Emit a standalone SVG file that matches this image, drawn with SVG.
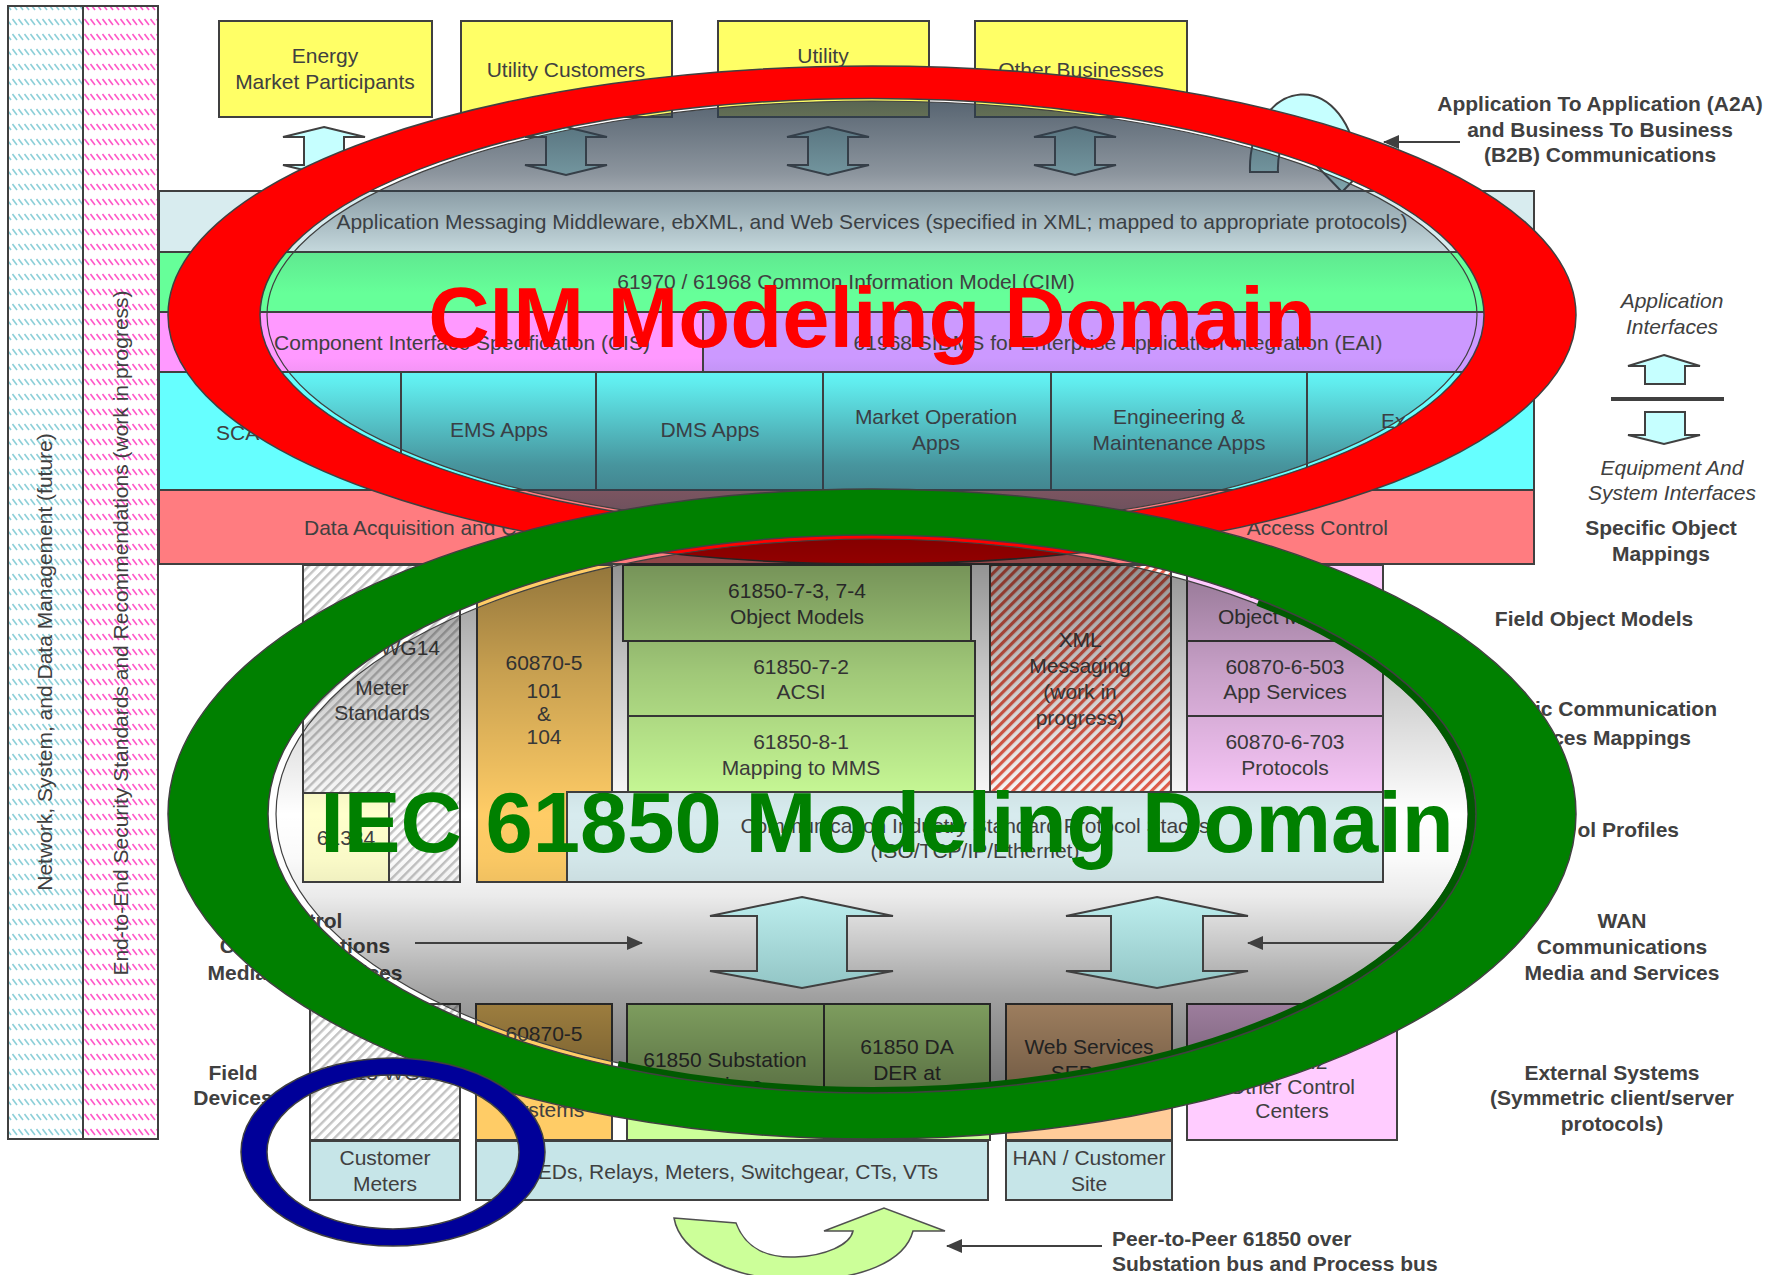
<svg xmlns="http://www.w3.org/2000/svg" width="1781" height="1275" viewBox="0 0 1781 1275">
<defs>
<style>
text { font-family: "Liberation Sans", Arial, sans-serif; font-size: 21px; fill: #404040; text-anchor: middle; }
.b { font-weight: bold; }
.it { font-style: italic; }
.st { text-anchor: start; }
.en { text-anchor: end; }
.box { stroke: #404040; stroke-width: 2; }
.ring { stroke: #404040; stroke-width: 1.5; fill-rule: evenodd; }
.conn { stroke: #404040; stroke-width: 2; fill: none; marker-end: url(#ah); }
.barrow { stroke: #404040; stroke-width: 2; fill: #c6ffff; }
.dbl { stroke: #404040; stroke-width: 2; fill: url(#gTeal); }
.big { font-size: 85px; font-weight: bold; }
</style>
<pattern id="pCyan" patternUnits="userSpaceOnUse" width="6" height="15">
<path d="M0.5,4 L5,10" stroke="#8ccfd8" stroke-width="1.6"/>
</pattern>
<pattern id="pPink" patternUnits="userSpaceOnUse" width="6" height="15">
<path d="M0.5,4 L5,10" stroke="#ff55c8" stroke-width="1.6"/>
</pattern>
<pattern id="pGray" patternUnits="userSpaceOnUse" width="6.5" height="6.5" patternTransform="rotate(45)">
<rect x="0" y="0" width="6.5" height="6.5" fill="#ffffff"/>
<rect x="0" y="0" width="2.4" height="6.5" fill="#c4c4c4"/>
</pattern>
<pattern id="pRed" patternUnits="userSpaceOnUse" width="7" height="7" patternTransform="rotate(45)">
<rect x="0" y="0" width="7" height="7" fill="#ffffff"/>
<rect x="0" y="0" width="3.2" height="7" fill="#e65e4c"/>
</pattern>
<linearGradient id="gRedIn" gradientUnits="userSpaceOnUse" x1="0" y1="101" x2="0" y2="529">
<stop offset="0" stop-color="#2e3e4e" stop-opacity="0.8"/>
<stop offset="0.17" stop-color="#2e3e4e" stop-opacity="0.55"/>
<stop offset="0.35" stop-color="#2e3e4e" stop-opacity="0.12"/>
<stop offset="0.45" stop-color="#2e3e4e" stop-opacity="0"/>
<stop offset="0.6" stop-color="#2e3e4e" stop-opacity="0"/>
<stop offset="0.66" stop-color="#2e3e4e" stop-opacity="0.1"/>
<stop offset="0.85" stop-color="#2e3e4e" stop-opacity="0.55"/>
<stop offset="1" stop-color="#2e3e4e" stop-opacity="0.75"/>
</linearGradient>
<linearGradient id="gGreenIn" gradientUnits="userSpaceOnUse" x1="0" y1="539" x2="0" y2="1089">
<stop offset="0" stop-color="#000000" stop-opacity="0.48"/>
<stop offset="0.06" stop-color="#000000" stop-opacity="0.41"/>
<stop offset="0.24" stop-color="#000000" stop-opacity="0.22"/>
<stop offset="0.42" stop-color="#000000" stop-opacity="0.07"/>
<stop offset="0.5" stop-color="#000000" stop-opacity="0"/>
<stop offset="0.58" stop-color="#000000" stop-opacity="0.02"/>
<stop offset="0.65" stop-color="#000000" stop-opacity="0.08"/>
<stop offset="0.74" stop-color="#000000" stop-opacity="0.22"/>
<stop offset="0.83" stop-color="#000000" stop-opacity="0.37"/>
<stop offset="1" stop-color="#000000" stop-opacity="0.55"/>
</linearGradient>
<linearGradient id="gTeal" x1="0" y1="0" x2="0" y2="1">
<stop offset="0" stop-color="#bdeeee"/>
<stop offset="1" stop-color="#92c5c5"/>
</linearGradient>
<marker id="ah" markerUnits="userSpaceOnUse" markerWidth="16" markerHeight="14" viewBox="0 0 16 14" refX="15" refY="7" orient="auto">
<path d="M0,0 L16,7 L0,14 Z" fill="#404040"/>
</marker>
</defs>

<rect x="0" y="0" width="1781" height="1275" fill="#ffffff"/>

<!-- Left vertical columns -->
<g id="col-network">
<rect x="8" y="6" width="75" height="1133" fill="url(#pCyan)" class="box"/>
<text transform="translate(52,662) rotate(-90)">Network, System, and Data Management  (future)</text>
</g>
<g id="col-security">
<rect x="83" y="6" width="75" height="1133" fill="url(#pPink)" class="box"/>
<text transform="translate(128,633) rotate(-90)">End-to-End Security Standards and Recommendations (work in progress)</text>
</g>

<!-- Top yellow boxes -->
<g id="n-energy">
<rect x="219" y="21" width="213" height="96" fill="#ffff66" class="box"/>
<text x="325" y="63">Energy</text>
<text x="325" y="89">Market Participants</text>
</g>
<g id="n-utility-customers">
<rect x="461" y="21" width="211" height="96" fill="#ffff66" class="box"/>
<text x="566" y="77">Utility Customers</text>
</g>
<g id="n-utility">
<rect x="718" y="21" width="211" height="96" fill="#ffff66" class="box"/>
<text x="823" y="63">Utility</text>
</g>
<g id="n-other-businesses">
<rect x="975" y="21" width="212" height="96" fill="#ffff66" class="box"/>
<text x="1081" y="77">Other Businesses</text>
</g>

<!-- small up/down block arrows under top boxes -->
<g id="arrows-top">
<polygon class="barrow" points="324,127 365,137 344,137 344,165 365,165 324,175 283,165 304,165 304,137 283,137"/>
<polygon class="barrow" points="566,127 607,137 586,137 586,165 607,165 566,175 525,165 546,165 546,137 525,137"/>
<polygon class="barrow" points="828,127 869,137 848,137 848,165 869,165 828,175 787,165 808,165 808,137 787,137"/>
<polygon class="barrow" points="1075,127 1116,137 1095,137 1095,165 1116,165 1075,175 1034,165 1055,165 1055,137 1034,137"/>
</g>

<!-- A2A curved arrow -->
<g id="n-a2a-arrow">
<path class="barrow" stroke-width="1.5" d="M1250,172 A53,74 0 0 1 1356,165 L1368,165 L1342,192 L1316,165 L1330,165 A26,44 0 0 0 1278,172 Z"/>
</g>

<!-- CIM layered rows -->
<g id="n-app-messaging">
<rect x="159" y="191" width="1375" height="61" fill="#d8ecef" class="box"/>
<text x="872" y="229">Application Messaging Middleware, ebXML, and Web Services (specified in XML; mapped to appropriate protocols)</text>
</g>
<g id="n-cim">
<rect x="159" y="252" width="1375" height="60" fill="#66ff99" class="box"/>
<text x="846" y="289">61970 / 61968 Common Information Model (CIM)</text>
</g>
<g id="n-cis">
<rect x="159" y="312" width="544" height="60" fill="#ff99ff" class="box"/>
<text x="462" y="350">Component Interface Specification (CIS)</text>
</g>
<g id="n-sidms">
<rect x="703" y="312" width="831" height="60" fill="#cc99ff" class="box"/>
<text x="1118" y="350">61968 SIDMS for Enterprise Application Integration (EAI)</text>
</g>
<g id="n-scada">
<rect x="159" y="372" width="242" height="118" fill="#66ffff" class="box"/>
<text x="216" y="440" class="st">SCA</text>
</g>
<g id="n-ems">
<rect x="401" y="372" width="195" height="118" fill="#66ffff" class="box"/>
<text x="499" y="437">EMS Apps</text>
</g>
<g id="n-dms">
<rect x="596" y="372" width="227" height="118" fill="#66ffff" class="box"/>
<text x="710" y="437">DMS Apps</text>
</g>
<g id="n-market">
<rect x="823" y="372" width="228" height="118" fill="#66ffff" class="box"/>
<text x="936" y="424">Market Operation</text>
<text x="936" y="450">Apps</text>
</g>
<g id="n-engineering">
<rect x="1051" y="372" width="256" height="118" fill="#66ffff" class="box"/>
<text x="1179" y="424">Engineering &amp;</text>
<text x="1179" y="450">Maintenance Apps</text>
</g>
<g id="n-external">
<rect x="1307" y="372" width="227" height="118" fill="#66ffff" class="box"/>
<text x="1381" y="428" class="st">Ex</text>
</g>
<g id="n-data-acq">
<rect x="159" y="490" width="1375" height="74" fill="#ff7c80" class="box"/>
<text x="304" y="535" class="st">Data Acquisition and C</text>
<text x="1388" y="535" class="en">Access Control</text>
</g>

<!-- Lower stack -->
<g id="n-meter-standards">
<rect x="303" y="565" width="157" height="317" fill="url(#pGray)" class="box"/>
<text x="440" y="655" class="en">WG14</text>
<text x="382" y="695">Meter</text>
<text x="382" y="720">Standards</text>
</g>
<g id="n-61334">
<rect x="303" y="793" width="86" height="89" fill="#ffffcc" class="box"/>
<text x="346" y="845">61334</text>
</g>
<g id="n-60870-5-top">
<rect x="477" y="565" width="135" height="317" fill="#ffcc66" class="box"/>
<text x="544" y="670">60870-5</text>
<text x="544" y="698">101</text>
<text x="544" y="721">&amp;</text>
<text x="544" y="744">104</text>
</g>
<g id="n-61850-7-3">
<rect x="623" y="565" width="348" height="76" fill="#ccff99" class="box"/>
<text x="797" y="598">61850-7-3, 7-4</text>
<text x="797" y="624">Object Models</text>
</g>
<g id="n-61850-7-2">
<rect x="628" y="641" width="347" height="75" fill="#ccff99" class="box"/>
<text x="801" y="674">61850-7-2</text>
<text x="801" y="699">ACSI</text>
</g>
<g id="n-61850-8-1">
<rect x="628" y="716" width="347" height="76" fill="#ccff99" class="box"/>
<text x="801" y="749">61850-8-1</text>
<text x="801" y="775">Mapping to MMS</text>
</g>
<g id="n-xml">
<rect x="990" y="565" width="181" height="227" fill="url(#pRed)" class="box"/>
<text x="1080" y="647">XML</text>
<text x="1080" y="673">Messaging</text>
<text x="1080" y="699">(work in</text>
<text x="1080" y="725">progress)</text>
</g>
<g id="n-60870-6-obj">
<rect x="1187" y="565" width="196" height="76" fill="#ffccff" class="box"/>
<text x="1285" y="598">60870-6</text>
<text x="1285" y="624">Object Models</text>
</g>
<g id="n-60870-6-503">
<rect x="1187" y="641" width="196" height="75" fill="#ffccff" class="box"/>
<text x="1285" y="674">60870-6-503</text>
<text x="1285" y="699">App Services</text>
</g>
<g id="n-60870-6-703">
<rect x="1187" y="716" width="196" height="76" fill="#ffccff" class="box"/>
<text x="1285" y="749">60870-6-703</text>
<text x="1285" y="775">Protocols</text>
</g>
<g id="n-comm-stack">
<rect x="567" y="792" width="816" height="90" fill="#d7ebee" class="box"/>
<text x="975" y="833">Communication Industry Standard Protocol Stacks</text>
<text x="975" y="858">(ISO/TCP/IP/Ethernet)</text>
</g>

<!-- Bottom row -->
<g id="n-tc13">
<rect x="310" y="1004" width="150" height="136" fill="url(#pGray)" class="box"/>
<text x="385" y="1080">TC13 WG14</text>
</g>
<g id="n-60870-5-bottom">
<rect x="476" y="1004" width="136" height="136" fill="#ffcc66" class="box"/>
<text x="544" y="1041">60870-5</text>
<text x="544" y="1117">Systems</text>
</g>
<g id="n-61850-substation">
<rect x="627" y="1004" width="197" height="136" fill="#ccff99" class="box"/>
<text x="725" y="1067">61850 Substation</text>
<text x="725" y="1092">Devices</text>
</g>
<g id="n-61850-da">
<rect x="824" y="1004" width="166" height="136" fill="#ccff99" class="box"/>
<text x="907" y="1054">61850 DA</text>
<text x="907" y="1080">DER at</text>
<text x="907" y="1106">Customer Sites</text>
</g>
<g id="n-web-services">
<rect x="1006" y="1004" width="166" height="136" fill="#ffcc99" class="box"/>
<text x="1089" y="1054">Web Services</text>
<text x="1089" y="1080">SEP 2.0</text>
</g>
<g id="n-other-control">
<rect x="1187" y="1004" width="210" height="136" fill="#ffccff" class="box"/>
<text x="1292" y="1045">60870-6</text>
<text x="1292" y="1069">TASE.2</text>
<text x="1292" y="1094">Other Control</text>
<text x="1292" y="1118">Centers</text>
</g>
<g id="n-customer-meters">
<rect x="310" y="1141" width="150" height="59" fill="#c6e5e8" class="box"/>
<text x="385" y="1165">Customer</text>
<text x="385" y="1191">Meters</text>
</g>
<g id="n-ieds">
<rect x="476" y="1141" width="512" height="59" fill="#c6e5e8" class="box"/>
<text x="735" y="1179">IEDs, Relays, Meters, Switchgear, CTs, VTs</text>
</g>
<g id="n-han">
<rect x="1006" y="1141" width="166" height="59" fill="#c6e5e8" class="box"/>
<text x="1089" y="1165">HAN / Customer</text>
<text x="1089" y="1191">Site</text>
</g>
<g id="n-peer-arrow">
<path d="M674,1218 L736,1223 C746,1250 770,1258 795,1257 C825,1256 850,1245 853,1231 L824,1231 L884,1208 L945,1231 L913,1231 C905,1262 860,1280 800,1280 C730,1280 680,1252 674,1218 Z" fill="#ccff99" stroke="#505050" stroke-width="1.5"/>
</g>

<!-- Left labels -->
<g id="lbl-control">
<text x="305" y="928" class="b">Control</text>
<text x="305" y="953" class="b">Communications</text>
<text x="305" y="980" class="b">Media and Services</text>
</g>
<g id="lbl-field-devices">
<text x="233" y="1080" class="b">Field</text>
<text x="233" y="1105" class="b">Devices</text>
</g>

<!-- Right labels -->
<g id="lbl-a2a">
<text x="1600" y="111" class="b">Application To Application (A2A)</text>
<text x="1600" y="137" class="b">and Business To Business</text>
<text x="1600" y="162" class="b">(B2B) Communications</text>
</g>
<g id="legend-interfaces">
<text x="1672" y="308" class="it">Application</text>
<text x="1672" y="334" class="it">Interfaces</text>
<polygon class="barrow" points="1664,355 1700,366 1685,366 1685,384 1645,384 1645,366 1628,366"/>
<line x1="1611" y1="399" x2="1724" y2="399" stroke="#404040" stroke-width="4"/>
<polygon class="barrow" points="1645,412 1685,412 1685,435 1700,435 1664,444 1628,435 1645,435"/>
<text x="1672" y="475" class="it">Equipment And</text>
<text x="1672" y="500" class="it">System Interfaces</text>
</g>
<g id="lbl-specific">
<text x="1661" y="535" class="b">Specific Object</text>
<text x="1661" y="561" class="b">Mappings</text>
</g>
<g id="lbl-field-object">
<text x="1594" y="626" class="b">Field Object Models</text>
</g>
<g id="lbl-comm-mappings">
<text x="1717" y="716" class="b en">ic Communication</text>
<text x="1691" y="745" class="b en">ces Mappings</text>
</g>
<g id="lbl-profiles">
<text x="1679" y="837" class="b en">ol Profiles</text>
</g>
<g id="lbl-wan">
<text x="1622" y="928" class="b">WAN</text>
<text x="1622" y="954" class="b">Communications</text>
<text x="1622" y="980" class="b">Media and Services</text>
</g>
<g id="lbl-external">
<text x="1612" y="1080" class="b">External Systems</text>
<text x="1612" y="1105" class="b">(Symmetric client/server</text>
<text x="1612" y="1131" class="b">protocols)</text>
</g>
<g id="lbl-peer">
<text x="1112" y="1246" class="b st">Peer-to-Peer 61850 over</text>
<text x="1112" y="1271" class="b st">Substation bus and Process bus</text>
</g>

<!-- CIM domain ring -->
<g id="cim-domain-shade">
<ellipse cx="872" cy="315" rx="605" ry="214" fill="url(#gRedIn)" stroke="#404040" stroke-width="1.2"/>
</g>
<g id="cim-domain-ring">
<path class="ring" fill="#ff0000" d="M168,315 a704,249 0 1,0 1408,0 a704,249 0 1,0 -1408,0 Z M260,315 a612,216.5 0 1,0 1224,0 a612,216.5 0 1,0 -1224,0 Z"/>
</g>

<!-- IEC 61850 domain shade -->
<g id="iec-domain-shade">
<ellipse cx="872" cy="814" rx="596" ry="275" fill="url(#gGreenIn)" stroke="#404040" stroke-width="1.2"/>
</g>

<!-- block double arrows -->
<g id="n-wan-arrows">
<polygon class="dbl" points="802,897 893,916 847,916 847,971 893,971 802,988 710,971 757,971 757,916 710,916"/>
<polygon class="dbl" points="1157,897 1248,916 1203,916 1203,971 1248,971 1157,988 1066,971 1111,971 1111,916 1066,916"/>
</g>

<!-- connectors -->
<g id="connectors">
<line class="conn" x1="1460" y1="142" x2="1384" y2="142"/>
<line class="conn" x1="415" y1="943" x2="642" y2="943"/>
<line class="conn" x1="1414" y1="943" x2="1248" y2="943"/>
<line class="conn" x1="1102" y1="1246" x2="947" y2="1246"/>
</g>

<g id="iec-domain-ring">
<path d="M618,1065 A600,277 0 0 0 1258,602" fill="none" stroke="#005a00" stroke-width="8"/>
<path class="ring" fill="#008000" d="M168,814 a704,325 0 1,0 1408,0 a704,325 0 1,0 -1408,0 Z M268,814 a604,279 0 1,0 1208,0 a604,279 0 1,0 -1208,0 Z"/>
</g>

<g id="domain-titles">
<text x="872" y="347" class="big" style="fill:#ff0000">CIM Modeling Domain</text>
<text x="887" y="852" class="big" style="fill:#008000">IEC 61850 Modeling Domain</text>
</g>

<g id="customer-meter-ring">
<path class="ring" fill="#000099" d="M241,1152 a152,94 0 1,0 304,0 a152,94 0 1,0 -304,0 Z M267,1152 a126,77 0 1,0 252,0 a126,77 0 1,0 -252,0 Z"/>
</g>
</svg>
